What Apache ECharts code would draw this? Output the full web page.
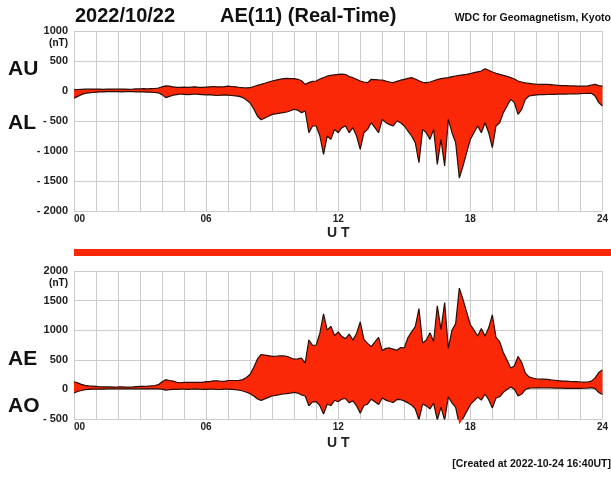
<!DOCTYPE html>
<html><head><meta charset="utf-8">
<script src="https://cdn.jsdelivr.net/npm/echarts@6/dist/echarts.min.js"></script>
<style>html,body{margin:0;padding:0;background:#fff}#c{width:611px;height:477px}</style>
</head><body><div id="c"></div>
<script>
// 10-minute samples, 00:00 .. 24:00 UT
const STEP_HOURS = 1 / 6;
const AU = [20,25,28,30,30,32,30,30,28,30,32,30,30,32,30,28,30,35,35,38,35,40,42,50,70,85,80,70,60,62,65,60,65,70,62,60,65,70,75,70,68,72,80,75,70,62,55,52,55,75,95,111,130,150,167,180,195,205,210,205,205,195,170,111,140,160,167,200,222,250,260,270,278,282,275,240,222,195,167,150,139,195,190,185,183,165,150,139,160,180,195,210,222,200,170,145,139,150,170,190,205,215,222,239,250,260,270,278,290,305,320,333,372,345,316,295,278,260,245,222,200,167,150,135,128,120,115,112,111,110,105,100,95,90,88,85,85,82,80,80,85,100,111,90,80];
const AL = [-120,-90,-60,-40,-30,-25,-20,-15,-15,-12,-10,-10,-12,-15,-10,-10,-12,-15,-15,-15,-20,-20,-25,-30,-60,-110,-90,-70,-60,-50,-55,-60,-55,-50,-55,-60,-65,-60,-70,-75,-70,-65,-70,-75,-80,-90,-110,-150,-200,-300,-420,-480,-450,-420,-390,-380,-370,-361,-350,-330,-305,-320,-361,-333,-695,-583,-583,-750,-1055,-750,-806,-639,-695,-611,-583,-695,-611,-750,-972,-695,-639,-528,-611,-695,-472,-528,-560,-583,-500,-528,-583,-667,-750,-861,-1194,-639,-695,-806,-639,-1222,-806,-1250,-472,-695,-861,-1450,-1250,-1028,-806,-695,-583,-695,-528,-695,-945,-583,-528,-361,-250,-139,-194,-389,-306,-139,-83,-72,-65,-60,-62,-58,-55,-55,-52,-50,-52,-50,-48,-50,-45,-42,-40,-39,-83,-194,-250];
const AE = [130,110,85,68,58,55,50,45,43,42,42,40,42,45,40,38,42,48,50,52,55,60,66,80,130,164,150,140,120,112,118,120,120,120,117,120,130,130,145,145,138,137,150,150,150,152,165,200,255,375,515,590,580,570,557,560,565,566,560,535,510,515,530,444,835,743,750,950,1277,1000,1066,909,973,893,858,935,833,945,1139,845,778,723,801,880,655,693,700,680,660,708,700,877,972,1061,1364,784,834,956,809,1412,1011,1465,694,1000,1111,1710,1520,1306,1096,1000,903,1028,900,1040,1261,878,806,621,495,361,394,556,456,274,211,192,180,172,173,168,160,155,147,140,140,135,133,132,125,122,125,139,194,284,330];
const AO = [-60,-35,-18,-5,0,3,5,7,6,9,11,10,9,8,10,9,9,10,10,11,8,10,8,10,5,-12,-5,0,0,6,5,0,5,10,4,0,0,5,3,-2,-1,3,5,0,-5,-14,-27,-49,-72,-112,-162,-185,-160,-135,-112,-100,-88,-78,-70,-62,-50,-62,-95,-111,-277,-212,-208,-275,-416,-250,-273,-184,-208,-164,-154,-227,-194,-277,-402,-272,-250,-166,-210,-255,-144,-181,-205,-222,-170,-174,-194,-228,-264,-330,-512,-247,-278,-328,-234,-516,-300,-517,-125,-228,-305,-595,-490,-375,-258,-195,-131,-181,-78,-175,-314,-144,-125,-50,-3,41,3,-111,-78,-2,22,24,25,26,24,26,25,22,21,20,18,17,18,16,17,19,22,30,14,-52,-85];
const TOP_TICKS = [-2000,-1500,-1000,-500,0,500,1000];
const BOT_TICKS = [-500,0,500,1000,1500,2000];
const HOUR_LABELS = [0,6,12,18,24];

const times = AU.map((_, i) => i * STEP_HOURS);
const pairs = arr => arr.map((v, i) => [times[i], v]);

const RED = '#fb2808';
const EDGE = '#2a0d05';
const GRIDC = '#cccccc';
const FONT = 'Liberation Sans';

function band(upper, lower) {
  return function (params, api) {
    const pts = [];
    for (let i = 0; i < times.length; i++) pts.push(api.coord([times[i], upper[i]]));
    for (let i = times.length - 1; i >= 0; i--) pts.push(api.coord([times[i], lower[i]]));
    return { type: 'polygon', shape: { points: pts }, style: { fill: RED } };
  };
}
function yFmt(v) { return v < 0 ? '- ' + (-v) : String(v); }
function xFmt(v) {
  if (HOUR_LABELS.indexOf(v) < 0) return '';
  const s = String(v).padStart(2, '0');
  return v === 0 ? '{z|' + s + '}' : s;
}
function xAxisCfg(gi, gap) {
  return {
    type: 'value', gridIndex: gi, min: 0, max: 24, interval: 1,
    axisLine: { show: true, lineStyle: { color: GRIDC } }, axisTick: { show: false },
    splitLine: { show: true, lineStyle: { color: GRIDC, width: 1 } },
    axisLabel: { color: '#222', fontFamily: FONT, fontWeight: 'bold', fontSize: 10, margin: 3,
      formatter: xFmt,
      rich: { z: { fontFamily: FONT, fontWeight: 'bold', fontSize: 10, color: '#222', padding: [0, 0, 7, 11] } } },
    name: 'U T', nameLocation: 'middle', nameGap: gap,
    nameTextStyle: { color: '#222', fontFamily: FONT, fontWeight: 'bold', fontSize: 14 }
  };
}
function yAxisCfg(gi, ticks) {
  return {
    type: 'value', gridIndex: gi, min: ticks[0], max: ticks[ticks.length - 1], interval: 500,
    axisLine: { show: false }, axisTick: { show: false },
    splitLine: { lineStyle: { color: GRIDC, width: 1 } },
    axisLabel: { color: '#222', fontFamily: FONT, fontWeight: 'bold', fontSize: 11, margin: 6, formatter: yFmt }
  };
}
function edgeLine(xi, arr) {
  return { type: 'line', xAxisIndex: xi, yAxisIndex: xi, data: pairs(arr), showSymbol: false, symbol: 'none',
    lineStyle: { color: EDGE, width: 1.2 }, z: 3, silent: true, animation: false };
}
function txt(x, y, text, size, align) {
  return { type: 'text', x: x, y: y, style: { text: text, fill: '#111', font: 'bold ' + size + 'px "' + FONT + '"', textAlign: align || 'left', textVerticalAlign: 'middle' } };
}

const chart = echarts.init(document.getElementById('c'), null, { renderer: 'canvas' });
chart.setOption({
  animation: false,
  grid: [
    { left: 74, top: 31, width: 537, height: 180 },
    { left: 74, top: 271, width: 537, height: 148 },
    { left: 74, top: 249, width: 537, height: 7 }
  ],
  xAxis: [xAxisCfg(0, 15), xAxisCfg(1, 17),
    { type: 'value', gridIndex: 2, min: 0, max: 24, show: false }],
  yAxis: [yAxisCfg(0, TOP_TICKS), yAxisCfg(1, BOT_TICKS),
    { type: 'value', gridIndex: 2, min: 0, max: 1, show: false }],
  series: [
    { type: 'custom', xAxisIndex: 0, yAxisIndex: 0, renderItem: band(AU, AL), data: [[0, 0]], z: 2, silent: true },
    edgeLine(0, AU), edgeLine(0, AL),
    { type: 'custom', xAxisIndex: 1, yAxisIndex: 1, renderItem: band(AE, AO), data: [[0, 0]], z: 2, silent: true },
    edgeLine(1, AE), edgeLine(1, AO),
    { type: 'line', xAxisIndex: 2, yAxisIndex: 2, data: [[0, 1], [24, 1]], showSymbol: false, symbol: 'none',
      lineStyle: { width: 0 }, areaStyle: { color: RED, opacity: 1 }, silent: true }
  ],
  graphic: [
    txt(75, 16, '2022/10/22', 20),
    txt(220, 16, 'AE(11) (Real-Time)', 20),
    txt(611, 18, 'WDC for Geomagnetism, Kyoto', 10.5, 'right'),
    txt(68, 43, '(nT)', 10, 'right'),
    txt(68, 283, '(nT)', 10, 'right'),
    txt(8, 69, 'AU', 21),
    txt(8, 123, 'AL', 21),
    txt(8, 359, 'AE', 21),
    txt(8, 406, 'AO', 21),
    txt(611, 464, '[Created at 2022-10-24 16:40UT]', 10.5, 'right')
  ]
});
</script></body></html>
